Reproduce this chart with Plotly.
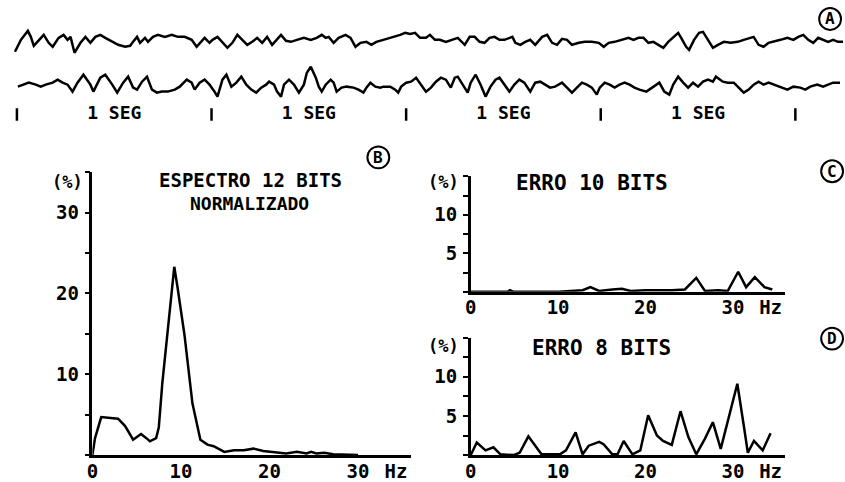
import plotly.graph_objects as go

W, H = 845, 482
FONT = "DejaVu Sans Mono"

# ---- EEG traces (sample position, amplitude in trace units; y grows downward) ----
eeg1_t = [9,15,22,25,28,33,38,43,47,53,58,62,65,69,75,80,85,90,95,100,107,113,120,125,128,132,135,140,143,148,153,160,167,173,180,187,192,197,200,205,208,213,218,223,228,233,238,243,248,253,258,263,268,273,277,
          282,287,293,300,307,313,318,322,325,330,335,342,347,352,357,363,368,373,380,387,392,397,402,407,412,417,423,427,432,437,443,450,455,462,467,472,477,482,487,492,497,502,507,510,513,518,523,528,533,540,545,550,555,
          560,565,570,577,583,590,597,602,607,613,620,627,632,637,642,647,652,657,662,667,672,677,680,685,688,693,698,702,707,712,717,723,730,737,743,750,753,758,763,768,773,780,787,793,798,803,808,813,818,823,828,833,838,843]
eeg1_v = [52,40,31,37,46,40,35,43,47,38,35,40,37,53,43,37,43,37,35,38,42,45,47,46,42,37,43,38,42,37,35,37,35,37,37,40,47,42,38,43,40,37,42,48,43,35,40,45,42,38,43,37,45,40,35,
          41,42,40,38,40,38,35,38,37,43,38,35,38,47,43,42,45,42,40,38,37,35,33,34,33,38,38,35,40,40,42,40,38,45,37,37,42,43,38,37,40,40,38,37,43,45,42,40,45,37,35,43,45,
          39,40,45,43,42,42,43,47,43,42,40,38,40,38,38,43,42,45,48,42,37,33,38,47,50,40,33,32,40,48,45,42,43,42,40,38,37,45,47,43,42,40,38,40,37,35,40,43,38,40,42,40,42,42]

eeg2_t = [12,17,23,30,35,40,47,52,57,62,67,72,78,85,88,95,100,107,112,118,123,128,132,137,142,147,152,157,163,170,175,182,187,190,195,200,205,210,213,218,222,227,232,237,242,247,252,257,262,265,270,273,277,
          280,285,290,295,300,303,307,312,315,318,322,327,330,333,338,343,350,355,360,363,367,372,377,380,387,392,395,398,403,408,413,418,423,428,433,438,443,448,452,455,460,465,468,473,478,483,488,493,497,502,507,512,517,522,528,533,538,543,548,553,
          560,565,570,575,580,585,590,595,598,603,608,613,618,623,628,633,638,645,652,658,663,668,672,677,682,687,692,697,702,707,712,715,722,727,733,738,743,748,753,758,763,768,773,780,787,793,800,805,810,817,823,828,833,840,845]
eeg2_v = [87,85,83,85,87,85,83,80,83,85,92,83,75,85,92,78,75,85,93,83,77,88,90,82,77,90,93,92,92,90,87,80,83,90,83,80,85,92,97,80,75,87,83,77,85,90,93,88,85,82,85,92,97,
          85,80,85,93,85,73,67,78,87,92,85,80,83,92,88,87,88,90,93,88,83,87,88,87,87,90,93,87,83,82,78,85,92,88,82,78,80,88,78,77,85,93,83,75,85,97,87,80,78,85,92,85,80,83,92,83,82,85,88,
          87,83,88,93,88,83,85,88,95,88,83,85,88,85,83,85,88,90,92,87,83,92,95,85,77,83,88,83,87,82,80,82,77,82,83,83,88,93,90,85,82,85,83,85,88,90,87,88,90,87,85,87,85,83,83]

seg_marks = [11, 207, 403, 599, 795]
seg_label = "1 SEG"

# ---- Spectra ----
b_hz  = [0,0.3,1.0,1.8,2.9,3.7,4.6,5.1,5.5,6.1,6.5,7.2,7.5,7.9,8.7,9.25,9.6,10.4,11.3,12.2,13.0,13.7,14.9,16.0,17.1,18.2,19.3,20.8,21.9,23.1,24.2,24.7,25.3,26.2,27.2,30.0]
b_pct = [0,2.1,4.7,4.6,4.5,3.6,1.9,2.3,2.6,2.1,1.7,2.1,3.4,8.9,17.9,23.3,20.9,14.9,6.4,1.9,1.3,1.1,0.4,0.6,0.6,0.8,0.5,0.3,0.2,0.4,0.2,0.4,0.2,0.3,0.1,0.0]

c_hz  = [0,4.2,4.5,4.9,10.1,12.8,13.7,14.7,16.2,17.3,18.3,20.0,23.0,24.5,25.8,26.8,28.3,29.4,30.6,31.5,32.5,33.6,34.5]
c_pct = [0,0.0,0.2,0.0,0.0,0.2,0.6,0.1,0.3,0.4,0.1,0.2,0.2,0.3,1.8,0.1,0.2,0.1,2.6,0.6,1.9,0.6,0.3]

d_hz  = [0,0.7,1.7,2.6,3.4,4.9,5.6,6.6,8.1,10.2,10.9,12.0,12.8,13.5,14.7,15.2,16.2,16.8,17.5,18.5,19.4,20.3,21.3,22.0,23.0,24.0,24.9,25.8,26.8,27.7,28.6,29.6,30.5,31.3,31.7,32.4,33.4,34.3]
d_pct = [0,1.6,0.6,1.0,0.1,0.0,0.3,2.4,0.1,0.1,0.6,2.9,0.1,1.2,1.7,1.4,0.1,0.1,1.8,0.1,0.6,5.1,2.5,1.8,1.3,5.6,2.3,0.1,2.1,4.2,0.8,5.1,9.1,3.3,0.3,1.8,0.6,2.8]

x_ticks = [0, 10, 20, 30]
x_unit = "Hz"
b_title = ["ESPECTRO 12 BITS", "NORMALIZADO"]
c_title = "ERRO 10 BITS"
d_title = "ERRO 8 BITS"
y_unit = "(%)"
panel_letters = ["A", "B", "C", "D"]


def px(x):
    return x / W


def py(y):
    return 1 - y / H


fig = go.Figure()
line = dict(color="black", width=2.5)

fig.add_trace(go.Scatter(x=eeg1_t, y=eeg1_v, mode="lines", line=line, xaxis="x", yaxis="y"))
fig.add_trace(go.Scatter(x=eeg2_t, y=eeg2_v, mode="lines", line=line, xaxis="x", yaxis="y"))
fig.add_trace(go.Scatter(x=seg_marks, y=[115] * len(seg_marks), mode="markers",
                         marker=dict(symbol="line-ns-open", size=9, color="black",
                                     line=dict(color="black", width=2.5)),
                         xaxis="x", yaxis="y"))
mids = [(a + b) / 2 for a, b in zip(seg_marks[:-1], seg_marks[1:])]
fig.add_trace(go.Scatter(x=mids, y=[115] * len(mids), mode="text", text=[seg_label] * len(mids),
                         textfont=dict(family=FONT, size=18, color="black", weight="bold"),
                         xaxis="x", yaxis="y"))

fig.add_trace(go.Scatter(x=b_hz, y=b_pct, mode="lines", line=line, xaxis="x2", yaxis="y2"))
fig.add_trace(go.Scatter(x=c_hz, y=c_pct, mode="lines", line=line, xaxis="x3", yaxis="y3"))
fig.add_trace(go.Scatter(x=d_hz, y=d_pct, mode="lines", line=line, xaxis="x4", yaxis="y4"))

tickfont = dict(family=FONT, size=19, color="black", weight="bold")


def xax(x0, x1):
    return dict(domain=[px(x0), px(x1)], range=[0, 36], showline=True, linewidth=2.5, linecolor="black",
                showgrid=False, zeroline=False, ticks="", tickvals=x_ticks + [34.3],
                ticktext=[str(v) for v in x_ticks] + [x_unit], tickfont=tickfont, ticklabelstandoff=-3)


def yax(y0, y1, top, step, labeled):
    vals = []
    v = 0.0
    while v <= top + 1e-9:
        vals.append(v)
        v += step
    text = [str(int(t)) if t in labeled else "" for t in vals]
    return dict(domain=[py(y0), py(y1)], range=[0, top], showline=True, linewidth=2.5, linecolor="black",
                showgrid=False, zeroline=False, ticks="outside", ticklen=5, tickwidth=2, tickcolor="black",
                tickvals=vals, ticktext=text, tickfont=tickfont, ticklabelstandoff=2)


fig.update_layout(
    width=W, height=H, autosize=False, margin=dict(l=0, r=0, t=0, b=0),
    paper_bgcolor="white", plot_bgcolor="white", showlegend=False,
    xaxis=dict(domain=[0, 1], range=[0, W], visible=False),
    yaxis=dict(domain=[py(125), 1], range=[125, 0], visible=False),
    xaxis2=xax(87, 408) | dict(anchor="y2"),
    yaxis2=yax(457, 173, 35, 5, [10, 20, 30]) | dict(anchor="x2"),
    xaxis3=xax(468, 785) | dict(anchor="y3"),
    yaxis3=yax(293, 177, 15, 2.5, [5, 10]) | dict(anchor="x3"),
    xaxis4=xax(468, 785) | dict(anchor="y4"),
    yaxis4=yax(457, 339, 15, 2.5, [5, 10]) | dict(anchor="x4"),
)

titlefont = dict(family=FONT, size=18, color="black", weight="bold")
unitfont = dict(family=FONT, size=17, color="black", weight="bold")
ann = [
    dict(x=px(246), y=py(181), text=b_title[0], font=dict(titlefont, size=19)),
    dict(x=px(245), y=py(204), text=b_title[1], font=titlefont),
    dict(x=px(590), y=py(184), text=c_title, font=dict(titlefont, size=21)),
    dict(x=px(600), y=py(349), text=d_title, font=dict(titlefont, size=21)),
    dict(x=px(62), y=py(183), text=y_unit, font=unitfont),
    dict(x=px(441), y=py(183), text=y_unit, font=unitfont),
    dict(x=px(441), y=py(347), text=y_unit, font=unitfont),
]
circles = [(830, 19), (375, 158), (832, 172), (832, 340)]
shapes = []
for (cx, cy), letter in zip(circles, panel_letters):
    r = 11
    shapes.append(dict(type="circle", xref="paper", yref="paper", x0=px(cx - r), x1=px(cx + r),
                       y0=py(cy + r), y1=py(cy - r), line=dict(color="black", width=2)))
    ann.append(dict(x=px(cx), y=py(cy), text=letter,
                    font=dict(family=FONT, size=16, color="black", weight="bold")))
for a in ann:
    a.update(xref="paper", yref="paper", showarrow=False, xanchor="center", yanchor="middle")
fig.update_layout(annotations=ann, shapes=shapes)

fig.write_html("out.html", config={"displayModeBar": False},
               post_script="document.body.style.margin='0';document.body.style.overflow='hidden';")
